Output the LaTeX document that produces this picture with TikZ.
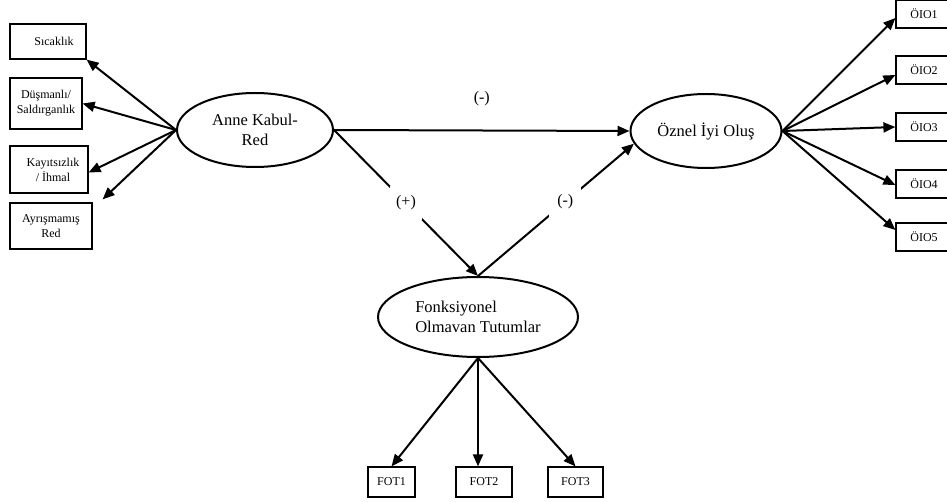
\documentclass[tikz,border=0pt]{standalone}
\usepackage{fontspec}
\setmainfont{Liberation Serif}
\usetikzlibrary{shapes.geometric,arrows.meta,calc}
\tikzset{
  box/.style={draw, line width=1.2pt, rectangle, inner sep=0pt, align=center, font=\fontsize{12}{15}\selectfont},
  lat/.style={draw, line width=2pt, ellipse, inner sep=0pt, align=center, font=\fontsize{16.5}{20.5}\selectfont},
  arr/.style={line width=2pt, -{Triangle[length=12pt,width=10pt]}},
  lbl/.style={fill=white, inner sep=0pt, minimum width=32pt, minimum height=34pt, font=\fontsize{16}{18}\selectfont}
}
\begin{document}
\begin{tikzpicture}[x=1pt,y=-1pt]
\useasboundingbox (0,0) rectangle (947,502);
\clip (0,0) rectangle (947,502);
\fill[white] (0,0) rectangle (947,502);
% latent variables
\node[lat, minimum width=156pt, minimum height=74pt] (anne) at (255,130) {Anne Kabul-\\Red};
\node[lat, minimum width=151pt, minimum height=74pt] (oz) at (706,131) {Öznel İyi Oluş};
\node[lat, minimum width=200pt, minimum height=80pt, align=left] (fot) at (478,317) {Fonksiyonel\\Olmavan Tutumlar};
% left boxes
\node[box, minimum width=76pt, minimum height=35pt] (sic) at (48,41.5) {\hspace*{12pt}Sıcaklık};
\node[box, minimum width=72pt, minimum height=51pt] (dus) at (46,103.5) {Düşmanlı/\\Saldırganlık};
\node[box, minimum width=78pt, minimum height=47pt] (kay) at (49,169.5) {\hspace*{8pt}Kayıtsızlık\\\hspace*{8pt}/ İhmal};
\node[box, minimum width=82pt, minimum height=46pt] (ayr) at (51,226) {Ayrışmamış\\Red};
% right boxes
\node[box, minimum width=56pt, minimum height=28pt] (o1) at (924,14) {ÖIO1};
\node[box, minimum width=56pt, minimum height=28pt] (o2) at (924,70) {ÖIO2};
\node[box, minimum width=56pt, minimum height=28pt] (o3) at (924,127) {ÖIO3};
\node[box, minimum width=56pt, minimum height=28pt] (o4) at (924,184) {ÖIO4};
\node[box, minimum width=56pt, minimum height=28pt] (o5) at (924,237) {ÖIO5};
% bottom boxes
\node[box, minimum width=47pt, minimum height=30pt] (f1) at (391.5,482) {FOT1};
\node[box, minimum width=56pt, minimum height=30pt] (f2) at (484,482) {FOT2};
\node[box, minimum width=55pt, minimum height=30pt] (f3) at (575.5,482) {FOT3};
\coordinate (ayrtip) at ($(ayr.north east)+(10,-3)$);
% left arrows
\draw[arr] (anne.west) -- (sic.south east);
\draw[arr] (anne.west) -- (dus.east);
\draw[arr] (anne.west) -- ([yshift=-3pt]kay.east);
\draw[arr] (anne.west) -- (ayrtip);
% right arrows
\draw[arr] (oz.east) -- ([yshift=-4pt]o1.west);
\draw[arr] (oz.east) -- ([yshift=-5pt]o2.west);
\draw[arr] (oz.east) -- (o3.west);
\draw[arr] (oz.east) -- ([yshift=-1pt]o4.west);
\draw[arr] (oz.east) -- ([yshift=7pt]o5.west);
% structural paths
\draw[arr] (anne.east) -- node[above=20pt, font=\fontsize{16}{18}\selectfont] {(-)} (oz.west);
\draw[arr] (anne.east) -- node[lbl, pos=0.5] (plus) {(+)} (fot.north);
\draw[arr] (fot.north) -- node[lbl, pos=0.56] (minus) {(-)} (oz.190);
% bottom arrows
\draw[arr] (fot.south) -- (f1.north);
\draw[arr] (fot.south) -- (f2.north west -| fot.south);
\draw[arr] (fot.south) -- (f3.north);
\end{tikzpicture}
\end{document}
